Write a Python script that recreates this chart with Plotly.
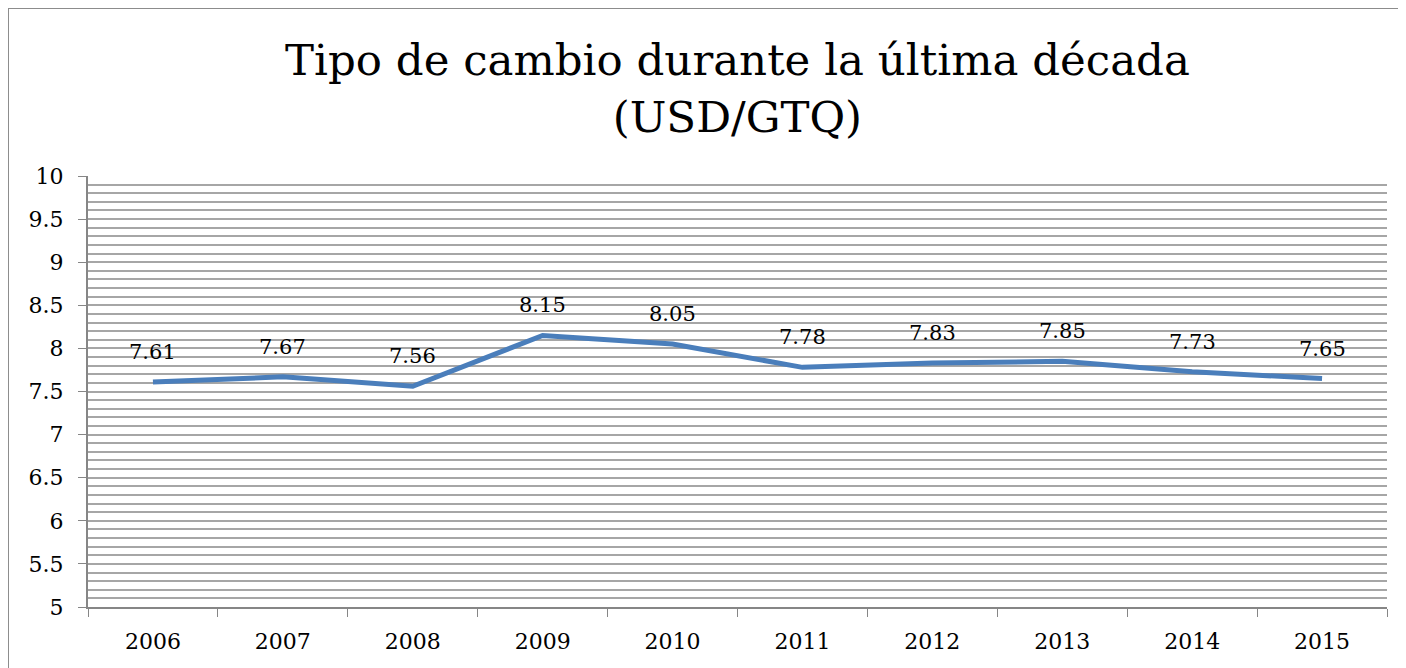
import plotly.graph_objects as go

years = ["2006", "2007", "2008", "2009", "2010", "2011", "2012", "2013", "2014", "2015"]
rates = [7.61, 7.67, 7.56, 8.15, 8.05, 7.78, 7.83, 7.85, 7.73, 7.65]
labels = ["7.61", "7.67", "7.56", "8.15", "8.05", "7.78", "7.83", "7.85", "7.73", "7.65"]

SERIF = "DejaVu Serif"
GRID = "#a6a6a6"
AXIS = "#868686"

fig = go.Figure(
    go.Scatter(x=years, y=rates, mode="lines", line=dict(color="#4a7ebb", width=5))
)

# data labels sit well above each point, as in the Excel chart
# (category axis: annotations take the category index)
for i, (val, lab) in enumerate(zip(rates, labels)):
    fig.add_annotation(x=i, y=val, text=lab, showarrow=False, yshift=30,
                       font=dict(family=SERIF, size=21, color="black"))

fig.add_annotation(
    text="Tipo de cambio durante la última década<br>(USD/GTQ)",
    x=0.5, y=1, xref="paper", yref="paper", xanchor="center", yanchor="bottom",
    yshift=32, showarrow=False, font=dict(family=SERIF, size=43.5, color="black"),
)

fig.update_layout(
    width=1406, height=668,
    margin=dict(l=80, r=27, t=168, b=69),
    paper_bgcolor="white", plot_bgcolor="white",
    showlegend=False,
    font=dict(family=SERIF, color="black"),
    shapes=[dict(type="rect", xref="paper", yref="paper", x0=-0.0616, x1=1.2, y0=-0.5, y1=1.3898,
                 line=dict(color="#8c8c8c", width=2), layer="below")],
)

fig.update_xaxes(
    type="category", range=[-0.5, 9.5], tickson="boundaries",
    ticks="outside", ticklen=8, tickcolor=AXIS,
    showline=True, linecolor=AXIS, linewidth=2, showgrid=False,
    tickfont=dict(family=SERIF, size=22), ticklabelstandoff=14,
)
fig.update_yaxes(
    range=[5, 10], dtick=0.5, ticks="outside", ticklen=8, tickcolor=AXIS,
    showline=True, linecolor=AXIS, linewidth=2,
    showgrid=True, gridcolor=GRID, gridwidth=1.5,
    minor=dict(dtick=0.1, showgrid=True, gridcolor=GRID, gridwidth=1.5),
    tickfont=dict(family=SERIF, size=22), zeroline=False, ticklabelstandoff=10,
)

fig.write_html("out.html")
